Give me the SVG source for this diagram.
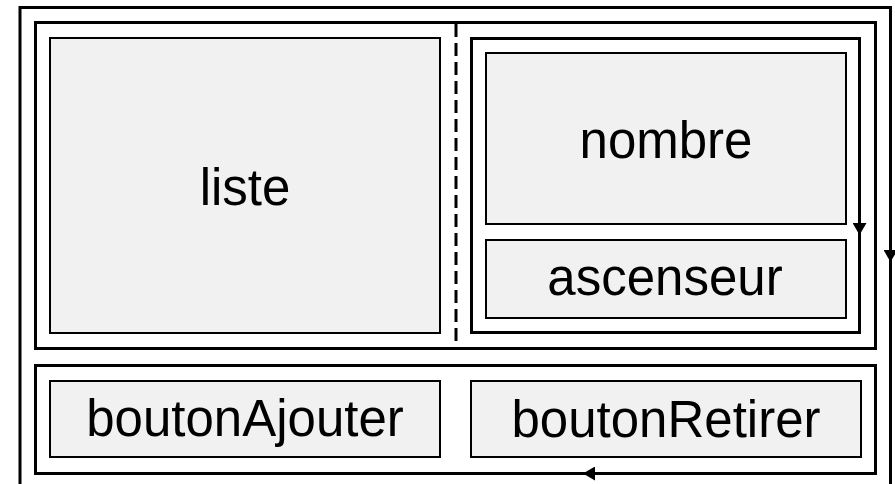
<svg xmlns="http://www.w3.org/2000/svg" width="895" height="484" viewBox="0 0 895 484">
<style>
.frame{fill:none;stroke:#000;stroke-width:3}
.box{fill:#f1f1f1;stroke:#000;stroke-width:2}
.lbl{font-family:"Liberation Sans",Arial,sans-serif;font-size:51px;fill:#000;text-anchor:middle}
.conn{fill:none;stroke:#000;stroke-width:3}
</style>
<defs>
<marker id="tri" viewBox="0 0 12 14" refX="12" refY="7" markerWidth="12" markerHeight="14" markerUnits="userSpaceOnUse" orient="auto">
<path d="M0,0 L12,7 L0,14 Z" fill="#000"/>
</marker>
</defs>
<rect width="895" height="484" fill="#fff"/>
<g id="fenetre"><path class="frame" d="M20,486 V7.5 H890.5 V486"/></g>
<g id="panneauHaut"><rect class="frame" x="35.5" y="22.5" width="840" height="326"/></g>
<g id="separateur"><line x1="456" y1="24" x2="456" y2="347" stroke="#000" stroke-width="3" stroke-dasharray="13 6"/></g>
<g id="liste"><rect class="box" x="50" y="38" width="390" height="295"/><text class="lbl" x="245" y="205">liste</text></g>
<g id="panneauDroit"><rect class="frame" x="471.5" y="38.5" width="388" height="294"/></g>
<g id="nombre"><rect class="box" x="486" y="53" width="360" height="171"/><text class="lbl" x="666" y="158">nombre</text></g>
<g id="ascenseur"><rect class="box" x="486" y="240" width="360" height="78"/><text class="lbl" x="665" y="295">ascenseur</text></g>
<g id="panneauBas"><rect class="frame" x="35.5" y="365.5" width="840" height="108"/></g>
<g id="boutonAjouter"><rect class="box" x="50" y="381" width="390" height="76"/><text class="lbl" x="245" y="436">boutonAjouter</text></g>
<g id="boutonRetirer"><rect class="box" x="471" y="381" width="390" height="76"/><text class="lbl" x="666" y="437">boutonRetirer</text></g>
<g id="connecteurs">
<path class="conn" d="M859.5,215 V235" marker-end="url(#tri)"/>
<path class="conn" d="M890.5,242 V262" marker-end="url(#tri)"/>
<path class="conn" d="M605,473.5 H583" marker-end="url(#tri)"/>
</g>
</svg>
